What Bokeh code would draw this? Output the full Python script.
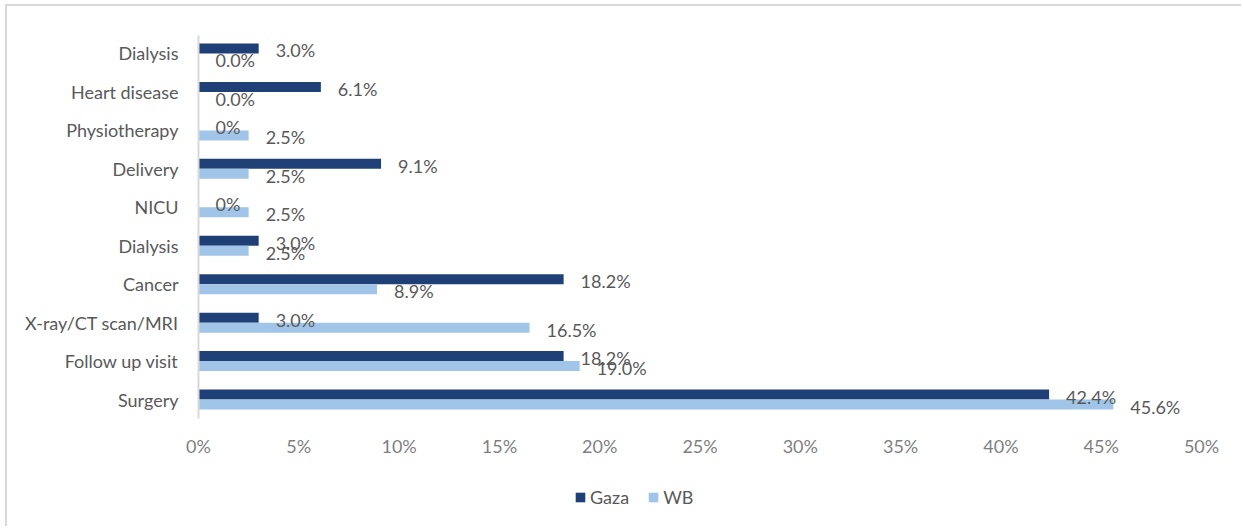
from bokeh.plotting import figure
from bokeh.models import Range1d, FixedTicker, ColumnDataSource, Legend, LegendItem, LinearAxis
from bokeh.core.properties import value
from bokeh.embed import file_html
from bokeh.resources import INLINE

# ---- data ----
categories = ["Dialysis", "Heart disease", "Physiotherapy", "Delivery", "NICU",
              "Dialysis", "Cancer", "X-ray/CT scan/MRI", "Follow up visit", "Surgery"]
gaza = [3.0, 6.1, 0.0, 9.1, 0.0, 3.0, 18.2, 3.0, 18.2, 42.4]
wb = [0.0, 0.0, 2.5, 2.5, 2.5, 2.5, 8.9, 16.5, 19.0, 45.6]
gaza_labels = ["3.0%", "6.1%", "0%", "9.1%", "0%", "3.0%", "18.2%", "3.0%", "18.2%", "42.4%"]
wb_labels = ["0.0%", "0.0%", "2.5%", "2.5%", "2.5%", "2.5%", "8.9%", "16.5%", "19.0%", "45.6%"]
x_ticks = [0, 5, 10, 15, 20, 25, 30, 35, 40, 45, 50]
x_tick_labels = ["0%", "5%", "10%", "15%", "20%", "25%", "30%", "35%", "40%", "45%", "50%"]
series_names = ["Gaza", "WB"]

GAZA_COLOR = "#1F3F77"
WB_COLOR = "#A0C5E8"
FONT = "Lato"

n = len(categories)
ypos = [n - 1 - i for i in range(n)]
bar_h = 0.26

src = ColumnDataSource(dict(
    y=ypos,
    gaza=gaza, wb=wb,
    gaza_lab=gaza_labels, wb_lab=wb_labels,
    gy=[v + bar_h / 2 for v in ypos],
    wy=[v - bar_h / 2 for v in ypos],
))

# frame covers the whole canvas; axes are placed at fixed locations inside it
p = figure(width=1236, height=522, output_backend="svg", toolbar_location=None,
           x_range=Range1d(-9.52, 52.09), y_range=Range1d(-3.354, 10.222),
           x_axis_location=None, y_axis_location=None,
           min_border_left=0, min_border_right=0, min_border_top=0, min_border_bottom=0)
p.margin = (4, 0, 0, 5)
p.styles = {"border-top": "2px solid #D9D9D9", "border-left": "2px solid #D9D9D9"}

r_g = p.hbar(y="gy", right="gaza", left=0, height=bar_h, source=src,
             fill_color=GAZA_COLOR, line_color=None)
r_w = p.hbar(y="wy", right="wb", left=0, height=bar_h, source=src,
             fill_color=WB_COLOR, line_color=None)

p.text(x="gaza", y="gy", text="gaza_lab", source=src, x_offset=17, y_offset=2,
       text_font=value(FONT), text_font_size="18px", text_color="#595959",
       text_baseline="middle", text_align="left")
p.text(x="wb", y="wy", text="wb_lab", source=src, x_offset=17, y_offset=2,
       text_font=value(FONT), text_font_size="18px", text_color="#595959",
       text_baseline="middle", text_align="left")

p.grid.visible = False
p.outline_line_color = None

xa = LinearAxis(fixed_location=-0.5)
xa.ticker = FixedTicker(ticks=x_ticks)
xa.major_label_overrides = {t: l for t, l in zip(x_ticks, x_tick_labels)}
xa.axis_line_color = None
xa.major_tick_line_color = None
xa.minor_tick_line_color = None
xa.major_label_standoff = 10
xa.major_label_text_font = FONT
xa.major_label_text_font_size = "18px"
xa.major_label_text_color = "#7F7F7F"
p.add_layout(xa, "below")

ya = LinearAxis(fixed_location=0)
ya.ticker = FixedTicker(ticks=ypos)
ya.bounds = (-0.5, 9.468)
ya.major_label_overrides = {y: c for y, c in zip(ypos, categories)}
ya.axis_line_color = "#D9D9D9"
ya.axis_line_width = 2
ya.major_tick_line_color = None
ya.minor_tick_line_color = None
ya.major_label_standoff = 14
ya.major_label_text_font = FONT
ya.major_label_text_font_size = "18px"
ya.major_label_text_color = "#595959"
p.add_layout(ya, "left")

legend = Legend(items=[LegendItem(label=series_names[0], renderers=[r_g]),
                       LegendItem(label=series_names[1], renderers=[r_w])],
                orientation="horizontal", location=(567, 20),
                glyph_width=12, glyph_height=12, label_standoff=4, spacing=18,
                padding=0, margin=0, border_line_color=None, background_fill_alpha=0,
                label_text_font=FONT, label_text_font_size="18px", label_text_color="#595959",
                label_height=12)
p.add_layout(legend, "center")

open("out.html", "w").write(file_html(p, INLINE))
